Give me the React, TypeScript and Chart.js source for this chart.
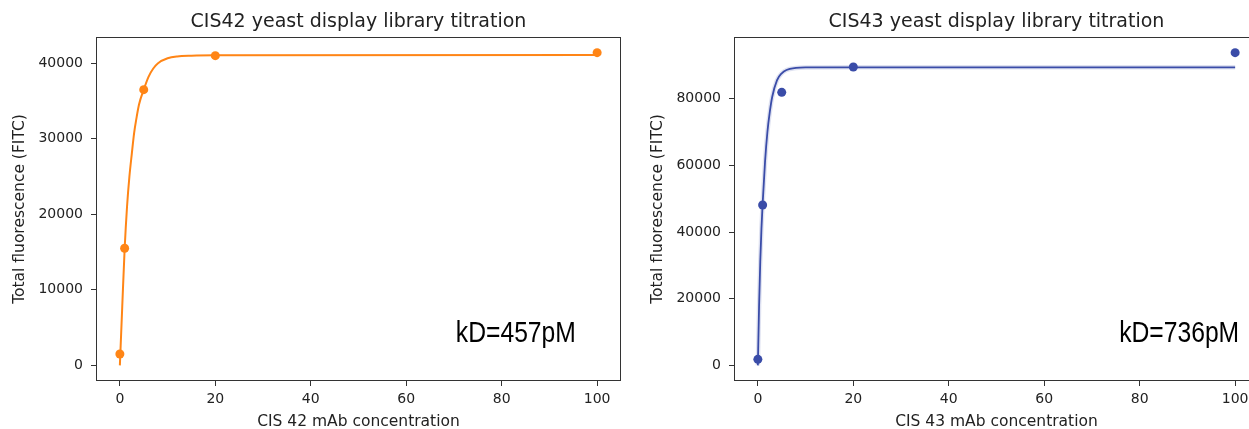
import React, { useEffect, useRef } from "react";
import { Chart, registerables } from "chart.js";

Chart.register(...registerables);

// ---- data ----
const concentrations = [0, 1, 5, 20, 100];
const cis42Values = [1500, 15500, 36500, 41000, 41400];
const cis43Values = [1800, 48100, 81900, 89500, 93800];

// fitted curves
const cis42FitX = [0, 0.5, 1, 1.5, 2, 2.5, 3, 3.5, 4, 5, 6, 7, 8, 10, 12, 15, 20, 100];
const cis42FitY = [0, 7800, 15400, 21000, 25000, 28000, 30800, 32800, 34500, 36500, 38200, 39300, 40000, 40650, 40900, 41000, 41050, 41100];

const cis43FitX = [0, 0.25, 0.5, 0.75, 1, 1.5, 2, 2.5, 3, 4, 5, 6, 8, 10, 20, 100];
const cis43FitY = [0, 17500, 31000, 41000, 48500, 61000, 70000, 76000, 80500, 85500, 87600, 88600, 89200, 89350, 89400, 89400];

const xTicks = [0, 20, 40, 60, 80, 100];
const cis42YTicks = [0, 10000, 20000, 30000, 40000];
const cis43YTicks = [0, 20000, 40000, 60000, 80000];

const cis42Title = "CIS42 yeast display library titration";
const cis43Title = "CIS43 yeast display library titration";
const cis42XLabel = "CIS 42 mAb concentration";
const cis43XLabel = "CIS 43 mAb concentration";
const yLabel = "Total fluorescence (FITC)";

const cis42Kd = { text: "kD=457pM", x: 70.4, y: 3070 };
const cis43Kd = { text: "kD=736pM", x: 75.7, y: 6960 };

const ORANGE = "#ff8516";
const BLUE = "#3a4ca8";
const TEXT = "#222";
const FONT = "DejaVu Sans";

function padRange(values: number[]): [number, number] {
  const mn = Math.min(...values);
  const mx = Math.max(...values);
  const m = (mx - mn) * 0.05;
  return [mn - m, mx + m];
}

const framePlugin = {
  id: "frame",
  afterDraw(chart: any) {
    const { ctx, chartArea: a } = chart;
    ctx.save();
    ctx.strokeStyle = "#333";
    ctx.lineWidth = 1;
    ctx.strokeRect(
      Math.round(a.left) + 0.5,
      Math.round(a.top) + 0.5,
      Math.round(a.right - a.left) - 1,
      Math.round(a.bottom - a.top) - 1
    );
    ctx.restore();
  },
};

const kdPlugin = {
  id: "kdLabel",
  afterDraw(chart: any, _args: any, opts: any) {
    if (!opts || !opts.text) return;
    const { ctx, scales } = chart;
    const px = scales.x.getPixelForValue(opts.x);
    const py = scales.y.getPixelForValue(opts.y);
    ctx.save();
    ctx.font = '29px "Liberation Sans Narrow", "Liberation Sans", Arial, sans-serif';
    const w = ctx.measureText(opts.text).width;
    const sx = opts.width / w;
    ctx.translate(px, py);
    ctx.scale(sx, 1);
    ctx.fillStyle = "#000";
    ctx.textAlign = "left";
    ctx.textBaseline = "alphabetic";
    ctx.fillText(opts.text, 0, 0);
    ctx.restore();
  },
};

type PanelProps = {
  left: number;
  title: string;
  xLabel: string;
  values: number[];
  fitX: number[];
  fitY: number[];
  yTicks: number[];
  color: string;
  kd: { text: string; x: number; y: number };
  band?: boolean;
};

const CANVAS_W = 640;
const CANVAS_H = 432;

function Panel(props: PanelProps) {
  const ref = useRef<HTMLCanvasElement | null>(null);

  useEffect(() => {
    const canvas = ref.current;
    if (!canvas) return;
    const { title, xLabel, values, fitX, fitY, yTicks, color, kd, band } = props;

    const points = concentrations.map((x, i) => ({ x, y: values[i] }));
    const curve = fitX.map((x, i) => ({ x, y: fitY[i] }));
    const [xMin, xMax] = padRange([...concentrations, ...fitX]);
    const [yMin, yMax] = padRange([...values, ...fitY]);

    const tickFont = { family: FONT, size: 14 };
    const labelFont = { family: FONT, size: 15.5 };

    const datasets: any[] = [
      {
        label: "data",
        data: points,
        showLine: false,
        pointRadius: 4.5,
        pointBackgroundColor: color,
        pointBorderWidth: 0,
        borderColor: color,
      },
      {
        label: "fit",
        data: curve,
        showLine: true,
        pointRadius: 0,
        borderColor: color,
        borderWidth: band ? 1.8 : 2,
        cubicInterpolationMode: "monotone",
        fill: false,
      },
    ];
    if (band) {
      datasets.push({
        label: "fit band",
        data: curve,
        showLine: true,
        pointRadius: 0,
        borderColor: "rgba(58,76,168,0.16)",
        borderWidth: 4.5,
        cubicInterpolationMode: "monotone",
        fill: false,
      });
    }

    const chart = new Chart(canvas, {
      type: "scatter",
      data: { datasets },
      plugins: [framePlugin, kdPlugin],
      options: {
        animation: false,
        responsive: false,
        devicePixelRatio: 1,
        layout: { padding: { left: 0, right: 19, top: 0, bottom: 0 } },
        plugins: {
          legend: { display: false },
          tooltip: { enabled: false },
          title: {
            display: true,
            text: title,
            fullSize: false,
            color: TEXT,
            font: { family: FONT, size: 19, weight: "normal" },
            padding: { top: 10.6, bottom: 3.6 },
          },
          kdLabel: { ...kd, width: 120 },
        } as any,
        scales: {
          x: {
            type: "linear",
            min: xMin,
            max: xMax,
            afterFit: (s: any) => {
              s.height = 51;
            },
            afterBuildTicks: (s: any) => {
              s.ticks = xTicks.map((v) => ({ value: v }));
            },
            grid: {
              drawOnChartArea: false,
              drawTicks: true,
              tickLength: 5,
              tickColor: "#333",
              tickWidth: 1,
            },
            border: { display: false },
            ticks: {
              color: TEXT,
              font: tickFont,
              padding: 5,
              maxRotation: 0,
              autoSkip: false,
              callback: (v: any) => String(v),
            },
            title: {
              display: true,
              text: xLabel,
              color: TEXT,
              font: labelFont,
              padding: { top: 0, bottom: 0.8 },
            },
          },
          y: {
            type: "linear",
            min: yMin,
            max: yMax,
            afterFit: (s: any) => {
              s.width = 96;
            },
            afterBuildTicks: (s: any) => {
              s.ticks = yTicks.map((v) => ({ value: v }));
            },
            grid: {
              drawOnChartArea: false,
              drawTicks: true,
              tickLength: 5,
              tickColor: "#333",
              tickWidth: 1,
            },
            border: { display: false },
            ticks: {
              color: TEXT,
              font: tickFont,
              padding: 8,
              autoSkip: false,
              callback: (v: any) => String(v),
            },
            title: {
              display: true,
              text: yLabel,
              color: TEXT,
              font: labelFont,
              padding: { top: 10.7, bottom: 0 },
            },
          },
        },
      } as any,
    });

    return () => chart.destroy();
  }, []);

  return (
    <canvas
      ref={ref}
      width={CANVAS_W}
      height={CANVAS_H}
      style={{
        position: "absolute",
        left: props.left,
        top: 0,
        width: CANVAS_W,
        height: CANVAS_H,
      }}
    />
  );
}

export default function App() {
  return (
    <div
      style={{
        position: "fixed",
        left: 0,
        top: 0,
        width: 1249,
        height: 429,
        overflow: "hidden",
        background: "#fff",
      }}
    >
      <Panel
        left={0}
        title={cis42Title}
        xLabel={cis42XLabel}
        values={cis42Values}
        fitX={cis42FitX}
        fitY={cis42FitY}
        yTicks={cis42YTicks}
        color={ORANGE}
        kd={cis42Kd}
      />
      <Panel
        left={638}
        title={cis43Title}
        xLabel={cis43XLabel}
        values={cis43Values}
        fitX={cis43FitX}
        fitY={cis43FitY}
        yTicks={cis43YTicks}
        color={BLUE}
        kd={cis43Kd}
        band
      />
    </div>
  );
}
